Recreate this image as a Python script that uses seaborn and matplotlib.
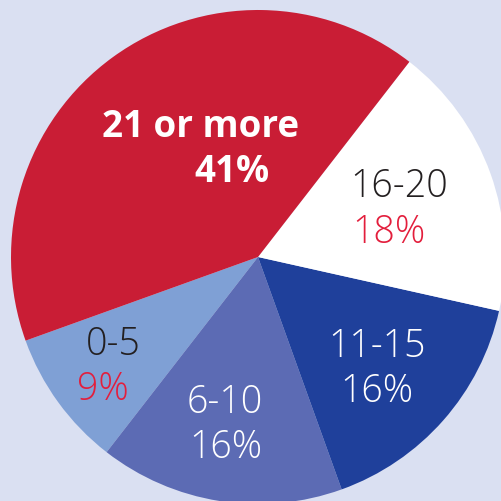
import matplotlib
matplotlib.use("Agg")
import matplotlib.pyplot as plt
import seaborn as sns

# Data
categories = ["0-5", "6-10", "11-15", "16-20", "21 or more"]
shares = [9, 16, 16, 18, 41]
pct_labels = ["9%", "16%", "16%", "18%", "41%"]

sns.set_style("white")
plt.rcParams['font.family'] = ['Open Sans', 'DejaVu Sans']

bg = "#DAE0F2"
colors = sns.color_palette(["#7FA0D5", "#5C6BB4", "#1F409B", "#FFFFFF", "#C91D35"])

fig = plt.figure(figsize=(5.02, 5.01), dpi=100, facecolor=bg)
ax = fig.add_axes([0, 0, 1, 1])
ax.set_facecolor(bg)

R = 247.0
cx, cy = 258.0, 257.0
W, H = 502.0, 501.0

ax.pie(shares, colors=colors, startangle=199.8, counterclock=True,
       radius=1.0, center=(0, 0), wedgeprops=dict(linewidth=0, antialiased=True))
ax.set_xlim(-cx / R, (W - cx) / R)
ax.set_ylim(-(H - cy) / R, cy / R)
ax.set_aspect('auto')
ax.axis('off')

def P(px, py):
    return (px - cx) / R, (cy - py) / R

dark = "#231F20"
red_txt = "#E31E3C"
white = "#FFFFFF"

# (pixel center x, baseline y, color, weight) for category and percentage labels
cat_pos = {
    "0-5": (113, 355, dark, "light"),
    "6-10": (225, 413, white, "light"),
    "11-15": (377, 357, white, "light"),
    "16-20": (399, 197, dark, "light"),
    "21 or more": (201, 137, white, "bold"),
}
pct_pos = {
    "0-5": (103, 400, red_txt, "light"),
    "6-10": (226, 458, white, "light"),
    "11-15": (377, 402, white, "light"),
    "16-20": (389, 243, red_txt, "light"),
    "21 or more": (232, 182, white, "bold"),
}

for cat, pct in zip(categories, pct_labels):
    px, py, c, w = cat_pos[cat]
    fs = 26.5 if w == "bold" else 27
    x, y = P(px, py)
    ax.text(x, y, cat, ha='center', va='baseline', color=c, fontsize=fs, fontweight=w)
    px, py, c, w = pct_pos[cat]
    x, y = P(px, py)
    ax.text(x, y, pct, ha='center', va='baseline', color=c, fontsize=fs, fontweight=w)

fig.savefig("out.png", dpi=100, facecolor=bg)
